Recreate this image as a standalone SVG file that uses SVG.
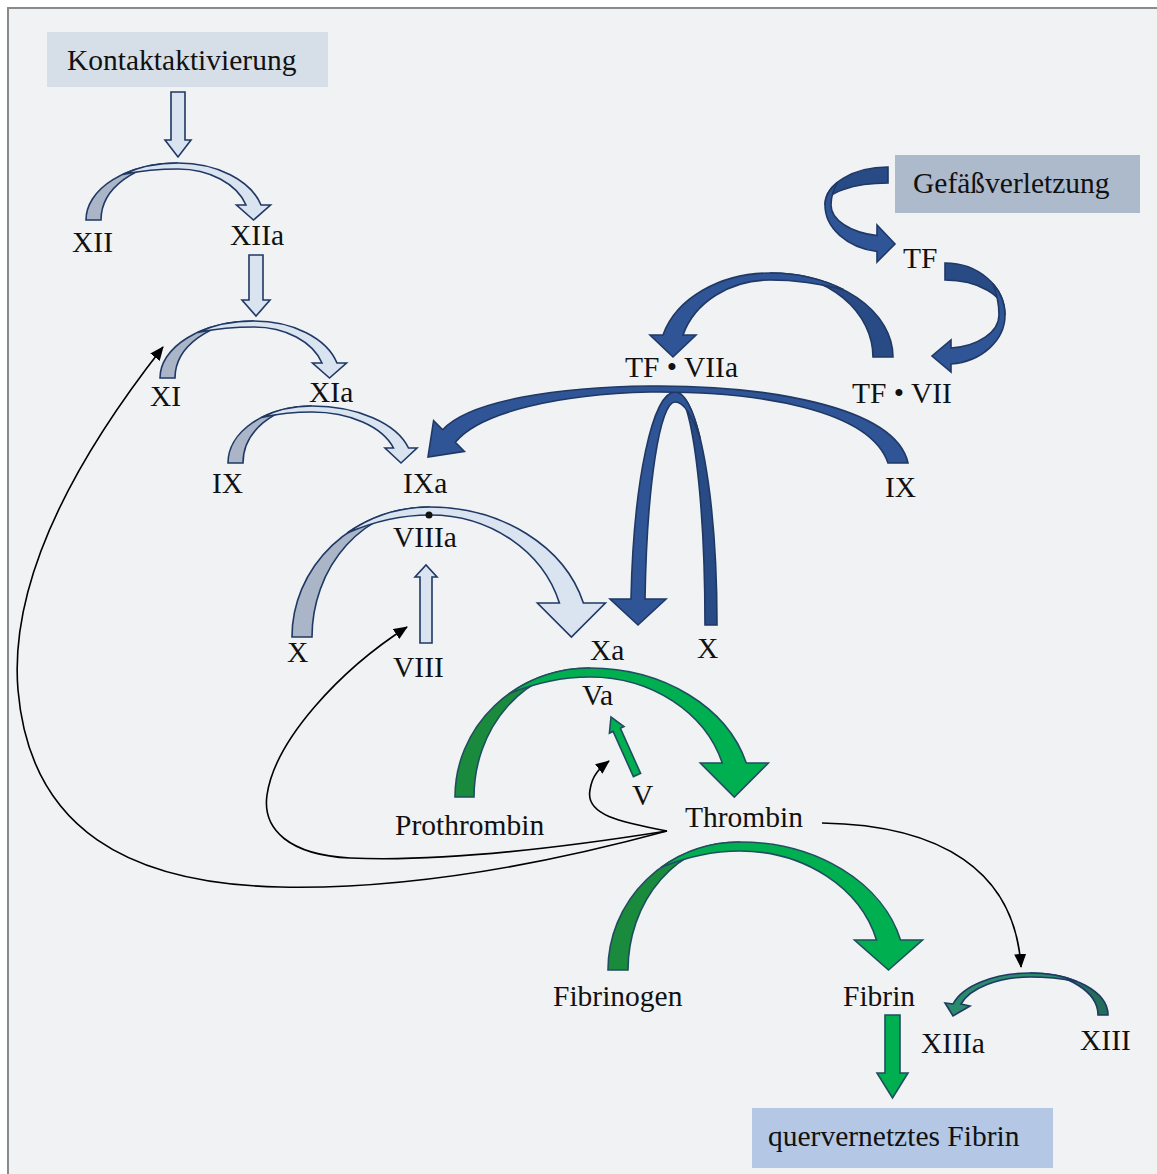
<svg xmlns="http://www.w3.org/2000/svg" width="1157" height="1174" viewBox="0 0 1157 1174">
<defs>
<style>
.lt{fill:#dae3f0;stroke:#1f3864;stroke-width:1.6;stroke-linejoin:miter}
.lb{fill:#aab6c7;stroke:#1f3864;stroke-width:1.6}
.db{fill:#2f5597;stroke:#1f3864;stroke-width:1.6}
.dd{fill:#284b86;stroke:#1f3864;stroke-width:1.6}
.gf{fill:#00b050;stroke:#1f4e5f;stroke-width:1.6}
.gd{fill:#1a8b3c;stroke:#1f4e5f;stroke-width:1.6}
.tf{fill:#2a8a6c;stroke:#1f3864;stroke-width:1.6}
.td{fill:#226e5a;stroke:#1f3864;stroke-width:1.6}
.ln{fill:none;stroke:#000;stroke-width:1.6;marker-end:url(#ah)}
.t{font-family:"Liberation Serif","Times New Roman",serif;font-size:29.5px;fill:#111}
</style>
<marker id="ah" markerWidth="14" markerHeight="12" refX="13" refY="6" orient="auto" markerUnits="userSpaceOnUse"><path d="M0,0 L14,6 L0,12 Z" fill="#000"/></marker>
</defs>
<rect x="0" y="0" width="1157" height="1174" fill="#ffffff"/>
<rect x="8" y="8" width="1160" height="1180" fill="#f0f2f4" stroke="#8a8a8a" stroke-width="2"/>

<g id="connectors">
<!-- straight block arrows -->
<path class="lt" d="M171,92 L185,92 L185,140 L191,140 L178,157 L165,140 L171,140 Z"/>
<path class="lt" d="M249,255 L263,255 L263,300 L270,300 L256,316 L242,300 L249,300 Z"/>
<path class="lt" d="M420,643 L432,643 L432,577 L437,577 L426,565 L415,577 L420,577 Z"/>
<path class="gf" d="M640.6,773.4 L620.3,728.2 L624,726.5 L611,717 L609.4,733.1 L613.1,731.4 L633.4,776.6 Z"/>
<path class="gf" d="M885,1015 L900,1015 L900,1073 L908,1073 L892.5,1098 L877,1073 L885,1073 Z"/>

<!-- XII -> XIIa -->
<path class="lb" d="M86,220 A92,57 0 0 1 178,163 A77,57 0 0 0 101,220 Z"/>
<path class="lt" d="M122.8,174.4 A92,57 0 0 1 178,163 A86,57 0 0 1 261,205 L270.5,205 L253.5,220 L236.5,205 L246,205 A71.2,51 0 0 0 178,169 Q150.4,169 122.8,174.4 Z"/>
<!-- XI -> XIa -->
<path class="lb" d="M160,378 A94,57 0 0 1 254,321 A79,57 0 0 0 175,378 Z"/>
<path class="lt" d="M197.6,332.4 A94,57 0 0 1 254,321 A86,57 0 0 1 337,363 L346.5,363 L329.5,378 L312.5,363 L322,363 A71.2,51 0 0 0 254,327 Q225.8,327 197.6,332.4 Z"/>
<!-- IX -> IXa -->
<path class="lb" d="M228,463 A84,57 0 0 1 312,406 A69,57 0 0 0 243,463 Z"/>
<path class="lt" d="M261.6,417.4 A84,57 0 0 1 312,406 A100,57 0 0 1 408.5,448 L417,448 L401,463 L385,448 L393.5,448 A85.3,51 0 0 0 312,412 Q286.8,412 261.6,417.4 Z"/>
<!-- X -> Xa (IXa/VIIIa) -->
<path class="lb" d="M292,637 A138,130 0 0 1 430,507 A118,130 0 0 0 312,637 Z"/>
<path class="lt" d="M347.2,533 A138,130 0 0 1 430,507 A159,130 0 0 1 583.4,603 L605.4,603 L571.4,637 L537.4,603 L559.4,603 A134.7,122 0 0 0 430,515 Q388.6,515 347.2,533 Z"/>

<!-- Gefaessverletzung -> TF -->
<path class="dd" d="M888,167 A63,38 0 0 0 825,205 A63,22 0 0 1 888,183 Z"/>
<path class="db" d="M837.6,182.2 A63,38 0 0 0 825,205 A63,47.2 0 0 0 877,251.5 L877,262 L895,244 L877,225 L877,235.5 A57,31.1 0 0 1 831,205 Q831,193.6 837.6,182.2 Z"/>
<!-- TF -> TF.VII -->
<path class="dd" d="M945,263 A60,52 0 0 1 1005,315 A60,35 0 0 0 945,280 Z"/>
<path class="db" d="M993,283.8 A60,52 0 0 1 1005,315 A60,49.2 0 0 1 951,364 L951,372 L932,356 L951,340 L951,348 A54,33.2 0 0 0 999,315 Q999,299.4 993,283.8 Z"/>
<!-- TF.VII -> TF.VIIa -->
<path class="dd" d="M893,357 A123,84 0 0 0 770,273 A103,84 0 0 1 873,357 Z"/>
<path class="db" d="M843.8,289.8 A123,84 0 0 0 770,273 A110.9,84 0 0 0 663,335 L650,335 L673,357 L696,335 L683,335 A90.8,77 0 0 1 770,280 Q806.9,280 843.8,289.8 Z"/>
<!-- X -> Xa via TF.VIIa (hairpin) -->
<path class="dd" d="M717,625 A42,233 0 0 0 675,392 A30,233 0 0 1 705,625 Z"/>
<path class="db" d="M700.2,438.6 A42,233 0 0 0 675,392 A44.3,233 0 0 0 631,599 L610,599 L638,625 L666,599 L645,599 A30.2,223 0 0 1 675,402 Q687.6,402 700.2,438.6 Z"/>
<!-- IX (right) -> IXa -->
<path class="db" d="M908,463 C895,405 760,385 650,386 C560,387 470,400 442.7,429.7 L433.6,420.6 L428,457 L464.4,451.4 L455.3,442.3 C480,412 560,394 650,392 C760,391 870,410 888,463 Z"/>

<!-- Prothrombin -> Thrombin -->
<path class="gd" d="M455,797 A135,129 0 0 1 590,668 A116,129 0 0 0 474,797 Z"/>
<path class="gf" d="M509,693.8 A135,129 0 0 1 590,668 A162,129 0 0 1 746.3,763 L768.3,763 L734.3,797 L700.3,763 L722.3,763 A138,120 0 0 0 590,677 Q549.5,677 509,693.8 Z"/>
<!-- Fibrinogen -> Fibrin -->
<path class="gd" d="M608,970 A132,128 0 0 1 740,842 A112,128 0 0 0 628,970 Z"/>
<path class="gf" d="M660.8,867.6 A132,128 0 0 1 740,842 A165.1,128 0 0 1 900.5,940 L922.5,940 L888.5,970 L854.5,940 L876.5,940 A141.1,119 0 0 0 740,851 Q700.4,851 660.8,867.6 Z"/>
<!-- XIII -> XIIIa -->
<path class="td" d="M1108,1015 A78,42 0 0 0 1030,973 A68,42 0 0 1 1098,1015 Z"/>
<path class="tf" d="M1076.8,981.4 A78,42 0 0 0 1030,973 A79.8,42 0 0 0 953,1004 L945,1003 L953,1016 L970,1006 L961,1004 A72.1,38 0 0 1 1030,977 Q1053.4,977 1076.8,981.4 Z"/>

<!-- thrombin feedback lines -->
<path class="ln" d="M667,831 C620,822 585,815 590,790 C592,775 600,768 609,761"/>
<path class="ln" d="M667,831 C560,848 440,862 350,858 C290,855 262,830 267,795 C275,740 340,670 407,627"/>
<path class="ln" d="M667,831 C560,860 420,890 280,887 C130,884 30,830 18,690 C8,570 90,440 163,347"/>
<path class="ln" d="M822,823 C940,825 1015,870 1021,967"/>
</g>

<g id="kontaktaktivierung"><rect x="47" y="32" width="281" height="55" fill="#d6dee8"/><text class="t" x="67" y="70">Kontaktaktivierung</text></g>
<g id="gefaessverletzung"><rect x="895" y="155" width="245" height="58" fill="#adbacb"/><text class="t" x="913" y="193">Gefäßverletzung</text></g>
<g id="quervernetztes-fibrin"><rect x="752" y="1108" width="301" height="60" fill="#b4c8e6"/><text class="t" x="768" y="1146">quervernetztes Fibrin</text></g>
<g id="XII"><text class="t" x="72" y="252">XII</text></g>
<g id="XIIa"><text class="t" x="230" y="245">XIIa</text></g>
<g id="XI"><text class="t" x="150" y="406">XI</text></g>
<g id="XIa"><text class="t" x="309" y="402">XIa</text></g>
<g id="IX"><text class="t" x="212" y="493">IX</text></g>
<g id="IXa"><text class="t" x="403" y="493">IXa</text></g>
<g id="VIIIa"><circle cx="429" cy="515" r="3.5" fill="#111"/><text class="t" x="393" y="547">VIIIa</text></g>
<g id="TF"><text class="t" x="903" y="268">TF</text></g>
<g id="TF-VIIa"><text class="t" x="625" y="377">TF • VIIa</text></g>
<g id="TF-VII"><text class="t" x="852" y="403">TF • VII</text></g>
<g id="IX-right"><text class="t" x="885" y="497">IX</text></g>
<g id="X-left"><text class="t" x="287" y="662">X</text></g>
<g id="VIII"><text class="t" x="393" y="677">VIII</text></g>
<g id="Xa"><text class="t" x="590" y="660">Xa</text></g>
<g id="X-right"><text class="t" x="697" y="658">X</text></g>
<g id="Va"><text class="t" x="582" y="705">Va</text></g>
<g id="V"><text class="t" x="632" y="805">V</text></g>
<g id="Prothrombin"><text class="t" x="395" y="835">Prothrombin</text></g>
<g id="Thrombin"><text class="t" x="685" y="827">Thrombin</text></g>
<g id="Fibrinogen"><text class="t" x="553" y="1006">Fibrinogen</text></g>
<g id="Fibrin"><text class="t" x="843" y="1006">Fibrin</text></g>
<g id="XIIIa"><text class="t" x="921" y="1053">XIIIa</text></g>
<g id="XIII"><text class="t" x="1080" y="1050">XIII</text></g>
</svg>
